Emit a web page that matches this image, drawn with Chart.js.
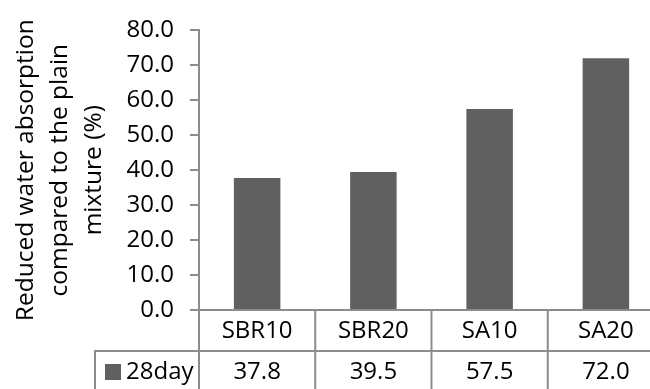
<!DOCTYPE html>
<html>
<head>
<meta charset="utf-8">
<script src="https://cdn.jsdelivr.net/npm/chart.js@4/dist/chart.umd.min.js"></script>
<style>
  html, body { margin: 0; padding: 0; background: #fff; overflow: hidden; }
  #wrap { width: 664px; height: 389px; position: relative; }
</style>
</head>
<body>
<div id="wrap"><canvas id="chart"></canvas></div>
<script>
// Mixtures and their reduction in water absorption at 28 days (%)
const categories = ['SBR10', 'SBR20', 'SA10', 'SA20'];
const seriesName = '28day';
const day28 = [37.8, 39.5, 57.5, 72.0];
const yMin = 0, yMax = 80, yStep = 10;
const yTitle = ['Reduced water absorption', 'compared to the plain', 'mixture (%)'];

const FONT = 'Open Sans';
const FONT_SIZE = 24;
const TITLE_SIZE = 24.5;
const BAR_COLOR = '#606060';
const LINE_COLOR = '#8c8c8c';

// Draws the data table under the plot: category row, value row and legend key
const dataTable = {
  id: 'dataTable',
  afterDraw(chart) {
    const { ctx, chartArea: a, scales: { x } } = chart;
    const n = categories.length;
    const colW = (a.right - a.left) / n;
    const row1 = a.bottom;
    const row2 = a.bottom + 41;
    const end = chart.height + 2;
    const keyLeft = a.left - 104;

    const line = (x1, y1, x2, y2) => {
      ctx.beginPath(); ctx.moveTo(x1, y1); ctx.lineTo(x2, y2); ctx.stroke();
    };

    ctx.save();
    ctx.strokeStyle = LINE_COLOR;
    ctx.lineWidth = 2;
    line(a.left, row1, a.right, row1);
    line(keyLeft, row2, a.right, row2);
    for (let i = 0; i <= n; i++) {
      const xp = a.left + i * colW;
      line(xp, row1, xp, end);
    }
    line(keyLeft, row2 - 1, keyLeft, end);

    ctx.fillStyle = '#000';
    ctx.font = FONT_SIZE + 'px "' + FONT + '"';
    ctx.textAlign = 'center';
    ctx.textBaseline = 'middle';
    const ds = chart.data.datasets[0];
    categories.forEach((c, i) => {
      const cx = x.getPixelForValue(i);
      ctx.fillText(c, cx, row1 + 21);
      ctx.fillText(ds.data[i].toFixed(1), cx, row2 + 21);
    });

    // legend key
    ctx.fillStyle = ds.backgroundColor;
    ctx.fillRect(keyLeft + 10, row2 + 13, 16, 16);
    ctx.fillStyle = '#000';
    ctx.textAlign = 'left';
    ctx.fillText(ds.label, keyLeft + 31, row2 + 21);
    ctx.restore();
  }
};

new Chart(document.getElementById('chart'), {
  type: 'bar',
  data: {
    labels: categories,
    datasets: [{
      label: seriesName,
      data: day28,
      backgroundColor: BAR_COLOR,
      borderWidth: 0,
      categoryPercentage: 1.0,
      barPercentage: 0.4
    }]
  },
  options: {
    responsive: true,
    maintainAspectRatio: false,
    animation: false,
    layout: { padding: { top: 19, bottom: 79, left: 0, right: 0 } },
    plugins: {
      legend: { display: false },
      tooltip: { enabled: false }
    },
    scales: {
      x: {
        display: false
      },
      y: {
        min: yMin,
        max: yMax,
        ticks: {
          stepSize: yStep,
          color: '#000',
          padding: 16,
          font: { family: FONT, size: FONT_SIZE },
          callback: v => v.toFixed(1)
        },
        grid: {
          drawOnChartArea: false,
          drawTicks: true,
          tickLength: 9,
          color: LINE_COLOR,
          lineWidth: 2
        },
        border: { display: true, color: LINE_COLOR, width: 2 },
        title: {
          display: true,
          text: yTitle,
          color: '#000',
          font: { family: FONT, size: TITLE_SIZE, lineHeight: 34 / TITLE_SIZE },
          padding: { top: 9, bottom: 0 }
        },
        afterFit: s => { s.width = 199; }
      }
    }
  },
  plugins: [dataTable]
});
</script>
</body>
</html>
